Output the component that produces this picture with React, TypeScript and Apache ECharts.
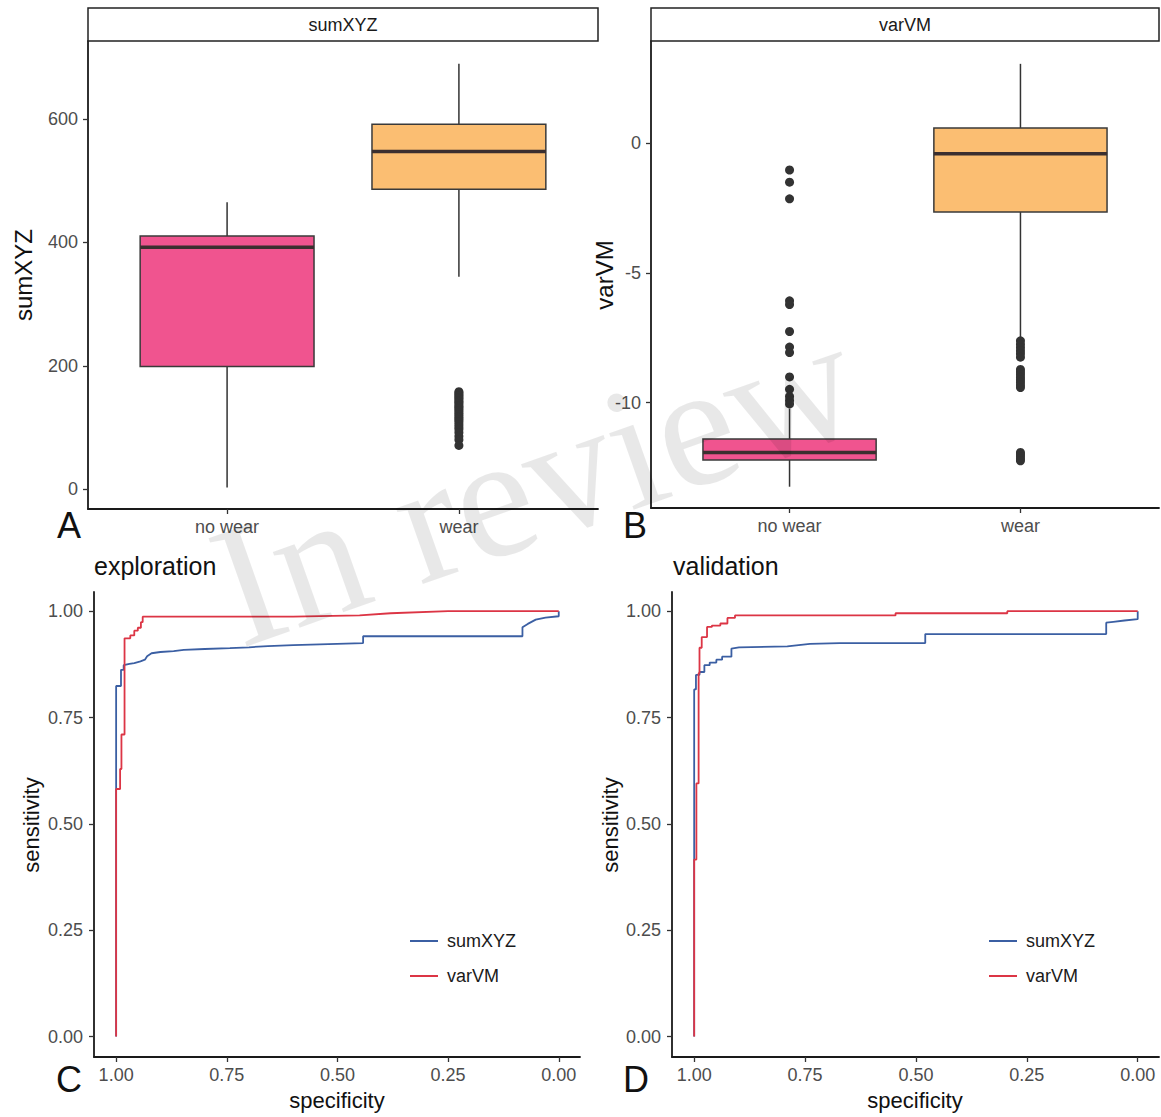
import React, { useEffect, useRef } from "react";
import * as echarts from "echarts";

const FONT = "'Liberation Sans', Arial, Helvetica, sans-serif";

// ---------- Box plot data ----------
const boxCategories = ["no wear", "wear"];
const boxColors = ["#F0548F", "#FBBE72"];
// [min whisker, Q1, median, Q3, max whisker]
const sumXYZBoxes = [
  [3, 199, 392, 410, 465],
  [344, 486, 547, 591, 689],
];
const sumXYZWearOutliers = [158, 156, 153, 151, 148, 146, 143, 141, 138, 135, 133, 130, 127, 124, 121, 118, 115, 112, 109, 105, 101, 97, 92, 86, 80, 71];
const varVMBoxes = [
  [-13.24, -12.21, -11.92, -11.4, -10.23],
  [-7.57, -2.66, -0.41, 0.58, 3.05],
];
const varVMNoWearOutliers = [-1.04, -1.51, -2.15, -6.08, -6.22, -7.26, -7.86, -8.07, -9.01, -9.49, -9.76, -9.92, -10.05];
const varVMWearOutliers = [-7.62, -7.75, -7.88, -8.0, -8.12, -8.25, -8.72, -8.82, -8.92, -9.02, -9.12, -9.22, -9.32, -9.42, -11.92, -12.0, -12.08, -12.16, -12.24];

const sumXYZTicks = [0, 200, 400, 600];
const varVMTicks = [-10, -5, 0];
const rocTicks = [0, 0.25, 0.5, 0.75, 1];

// ---------- ROC data: exploration ----------
const expSumXYZSpec = [1.0, 1.0, 0.989, 0.989, 0.983, 0.983, 0.97, 0.959, 0.945, 0.935, 0.93, 0.92, 0.9, 0.87, 0.847, 0.8, 0.743, 0.7, 0.657, 0.6, 0.54, 0.442, 0.442, 0.082, 0.082, 0.07, 0.052, 0.03, 0.0, 0.0];
const expSumXYZSens = [0.0, 0.824, 0.824, 0.862, 0.862, 0.873, 0.876, 0.878, 0.882, 0.886, 0.894, 0.901, 0.904, 0.906, 0.909, 0.911, 0.913, 0.915, 0.918, 0.92, 0.922, 0.925, 0.941, 0.941, 0.962, 0.97, 0.98, 0.985, 0.988, 1.0];
const expVarVMSpec = [1.0, 1.0, 0.991, 0.991, 0.988, 0.988, 0.981, 0.981, 0.968, 0.968, 0.959, 0.959, 0.951, 0.951, 0.944, 0.944, 0.94, 0.94, 0.6, 0.45, 0.38, 0.25, 0.0];
const expVarVMSens = [0.0, 0.582, 0.582, 0.629, 0.629, 0.71, 0.71, 0.936, 0.936, 0.943, 0.943, 0.954, 0.954, 0.961, 0.961, 0.974, 0.974, 0.987, 0.987, 0.99, 0.995, 1.0, 1.0];

// ---------- ROC data: validation ----------
const valSumXYZSpec = [1.0, 1.0, 0.996, 0.996, 0.988, 0.988, 0.977, 0.977, 0.965, 0.965, 0.95, 0.95, 0.937, 0.937, 0.916, 0.916, 0.899, 0.79, 0.739, 0.672, 0.479, 0.479, 0.071, 0.071, 0.055, 0.03, 0.0, 0.0];
const valSumXYZSens = [0.0, 0.816, 0.816, 0.85, 0.85, 0.857, 0.857, 0.873, 0.873, 0.879, 0.879, 0.886, 0.886, 0.893, 0.893, 0.912, 0.915, 0.917, 0.923, 0.925, 0.925, 0.946, 0.946, 0.973, 0.975, 0.978, 0.981, 1.0];
const valVarVMSpec = [1.0, 1.0, 0.995, 0.995, 0.99, 0.99, 0.988, 0.988, 0.983, 0.983, 0.971, 0.971, 0.96, 0.96, 0.941, 0.941, 0.925, 0.925, 0.908, 0.908, 0.546, 0.546, 0.294, 0.294, 0.0];
const valVarVMSens = [0.0, 0.416, 0.416, 0.595, 0.595, 0.854, 0.854, 0.914, 0.914, 0.939, 0.939, 0.963, 0.963, 0.966, 0.966, 0.971, 0.971, 0.984, 0.984, 0.99, 0.99, 0.995, 0.995, 1.0, 1.0];

const rocNames = ["sumXYZ", "varVM"];
const rocColors = ["#3B5FA3", "#DC3545"];

const pairs = (xs: number[], ys: number[]) => xs.map((x, i) => [x, ys[i]]);

const axisLineStyle = { show: true, onZero: false, lineStyle: { color: "#1a1a1a", width: 1.8 } };
const tickStyle = (vals: number[]) => ({ show: true, length: 5, customValues: vals, lineStyle: { color: "#333", width: 1.3 } });
const labelStyle = (vals: number[], fmt: (v: number) => string, margin: number) => ({
  show: true,
  customValues: vals,
  formatter: fmt,
  color: "#4d4d4d",
  fontSize: 18,
  fontFamily: FONT,
  margin,
});

const boxRender = (params: any, api: any) => {
  const x = api.value(0);
  const lo = api.coord([x, api.value(1)]);
  const q1 = api.coord([x, api.value(2)]);
  const med = api.coord([x, api.value(3)]);
  const q3 = api.coord([x, api.value(4)]);
  const hi = api.coord([x, api.value(5)]);
  const halfW = api.size([0.75, 0])[0] / 2;
  const fill = api.visual("color");
  return {
    type: "group",
    children: [
      { type: "line", shape: { x1: lo[0], y1: lo[1], x2: q1[0], y2: q1[1] }, style: { stroke: "#333", lineWidth: 1.5 } },
      { type: "line", shape: { x1: q3[0], y1: q3[1], x2: hi[0], y2: hi[1] }, style: { stroke: "#333", lineWidth: 1.5 } },
      {
        type: "rect",
        shape: { x: q3[0] - halfW, y: q3[1], width: 2 * halfW, height: q1[1] - q3[1] },
        style: { fill, stroke: "#3a3a3a", lineWidth: 1.5 },
      },
      {
        type: "line",
        shape: { x1: med[0] - halfW, y1: med[1], x2: med[0] + halfW, y2: med[1] },
        style: { stroke: "#3b2f2f", lineWidth: 3.5 },
      },
    ],
  };
};

const boxData = (boxes: number[][]) =>
  boxes.map((b, i) => ({ value: [i + 1, ...b], itemStyle: { color: boxColors[i] } }));

const catFmt = (v: number) => boxCategories[Math.round(v) - 1] ?? "";

export default function App() {
  const ref = useRef<HTMLDivElement>(null);
  useEffect(() => {
    document.body.style.margin = "0";
    document.body.style.background = "#fff";
    if (!ref.current) return;
    const chart = echarts.init(ref.current, undefined, { renderer: "svg" });

    const title = (text: string, x: number, y: number, size: number, rot = 0, align = "center") => ({
      type: "text",
      x,
      y,
      rotation: rot,
      z: 10,
      style: { text, fill: "#111", font: `${size}px ${FONT}`, align, verticalAlign: "middle" },
    });
    const strip = (x: number, w: number, text: string) => [
      { type: "rect", z: 10, shape: { x, y: 8, width: w, height: 33 }, style: { fill: "#fff", stroke: "#222", lineWidth: 1.5 } },
      { type: "text", z: 11, x: x + w / 2, y: 25, style: { text, fill: "#1a1a1a", font: `18px ${FONT}`, align: "center", verticalAlign: "middle" } },
    ];

    const legend = (left: number) => ({
      left,
      top: 926,
      orient: "vertical",
      icon: "rect",
      itemWidth: 28,
      itemHeight: 2,
      itemGap: 15,
      selectedMode: false,
      data: rocNames,
      textStyle: { fontSize: 18, fontFamily: FONT, color: "#1a1a1a", lineHeight: 20, padding: [0, 0, 0, 4] },
    });

    const option: any = {
      animation: false,
      backgroundColor: "#fff",
      grid: [
        { left: 88, top: 41, width: 510, height: 468 },
        { left: 651, top: 41, width: 508, height: 467 },
        { left: 94, top: 592, width: 486, height: 465 },
        { left: 672, top: 592, width: 487, height: 465 },
      ],
      xAxis: [
        { gridIndex: 0, type: "value", min: 0.4, max: 2.6, axisLine: axisLineStyle, axisTick: tickStyle([1, 2]), axisLabel: labelStyle([1, 2], catFmt, 9), splitLine: { show: false } },
        { gridIndex: 1, type: "value", min: 0.4, max: 2.6, axisLine: axisLineStyle, axisTick: tickStyle([1, 2]), axisLabel: labelStyle([1, 2], catFmt, 9), splitLine: { show: false } },
        { gridIndex: 2, type: "value", min: -0.048, max: 1.05, inverse: true, axisLine: axisLineStyle, axisTick: tickStyle(rocTicks), axisLabel: labelStyle(rocTicks, (v) => v.toFixed(2), 9), splitLine: { show: false } },
        { gridIndex: 3, type: "value", min: -0.048, max: 1.05, inverse: true, axisLine: axisLineStyle, axisTick: tickStyle(rocTicks), axisLabel: labelStyle(rocTicks, (v) => v.toFixed(2), 9), splitLine: { show: false } },
      ],
      yAxis: [
        { gridIndex: 0, type: "value", min: -32, max: 726, axisLine: axisLineStyle, axisTick: tickStyle(sumXYZTicks), axisLabel: labelStyle(sumXYZTicks, (v) => String(Math.round(v)), 10), splitLine: { show: false } },
        { gridIndex: 1, type: "value", min: -14.06, max: 3.93, axisLine: axisLineStyle, axisTick: tickStyle(varVMTicks), axisLabel: labelStyle(varVMTicks, (v) => String(Math.round(v)), 10), splitLine: { show: false } },
        { gridIndex: 2, type: "value", min: -0.048, max: 1.045, axisLine: axisLineStyle, axisTick: tickStyle(rocTicks), axisLabel: labelStyle(rocTicks, (v) => v.toFixed(2), 11), splitLine: { show: false } },
        { gridIndex: 3, type: "value", min: -0.048, max: 1.045, axisLine: axisLineStyle, axisTick: tickStyle(rocTicks), axisLabel: labelStyle(rocTicks, (v) => v.toFixed(2), 11), splitLine: { show: false } },
      ],
      legend: [legend(405), legend(984)],
      series: [
        { type: "custom", xAxisIndex: 0, yAxisIndex: 0, renderItem: boxRender, encode: { x: 0, y: [1, 2, 3, 4, 5] }, data: boxData(sumXYZBoxes), silent: true },
        { type: "scatter", xAxisIndex: 0, yAxisIndex: 0, symbolSize: 9, itemStyle: { color: "#333", opacity: 1 }, data: sumXYZWearOutliers.map((v) => [2, v]), silent: true },
        { type: "custom", xAxisIndex: 1, yAxisIndex: 1, renderItem: boxRender, encode: { x: 0, y: [1, 2, 3, 4, 5] }, data: boxData(varVMBoxes), silent: true },
        { type: "scatter", xAxisIndex: 1, yAxisIndex: 1, symbolSize: 9, itemStyle: { color: "#333", opacity: 1 }, data: varVMNoWearOutliers.map((v) => [1, v]), silent: true },
        { type: "scatter", xAxisIndex: 1, yAxisIndex: 1, symbolSize: 9, itemStyle: { color: "#333", opacity: 1 }, data: varVMWearOutliers.map((v) => [2, v]), silent: true },
        { name: rocNames[0], type: "line", xAxisIndex: 2, yAxisIndex: 2, showSymbol: false, color: rocColors[0], lineStyle: { width: 1.8, color: rocColors[0] }, data: pairs(expSumXYZSpec, expSumXYZSens) },
        { name: rocNames[1], type: "line", xAxisIndex: 2, yAxisIndex: 2, showSymbol: false, color: rocColors[1], lineStyle: { width: 1.8, color: rocColors[1] }, data: pairs(expVarVMSpec, expVarVMSens) },
        { name: rocNames[0], type: "line", xAxisIndex: 3, yAxisIndex: 3, showSymbol: false, color: rocColors[0], lineStyle: { width: 1.8, color: rocColors[0] }, data: pairs(valSumXYZSpec, valSumXYZSens) },
        { name: rocNames[1], type: "line", xAxisIndex: 3, yAxisIndex: 3, showSymbol: false, color: rocColors[1], lineStyle: { width: 1.8, color: rocColors[1] }, data: pairs(valVarVMSpec, valVarVMSens) },
      ],
      graphic: [
        ...strip(88, 510, "sumXYZ"),
        ...strip(651, 508, "varVM"),
        title("sumXYZ", 23, 275, 24, Math.PI / 2),
        title("varVM", 604, 275, 24, Math.PI / 2),
        title("sensitivity", 31, 825, 22, Math.PI / 2),
        title("sensitivity", 610, 825, 22, Math.PI / 2),
        title("specificity", 337, 1100, 22),
        title("specificity", 915, 1100, 22),
        title("exploration", 94, 566, 25, 0, "left"),
        title("validation", 673, 566, 25, 0, "left"),
        title("A", 69, 525, 36),
        title("B", 635, 525, 36),
        title("C", 69, 1079, 36),
        title("D", 636, 1079, 36),
        {
          type: "text",
          x: 535,
          y: 482,
          rotation: 0.34,
          z: 100,
          silent: true,
          style: { text: "In review", fill: "rgba(0,0,0,0.09)", font: `175px 'Liberation Serif', serif`, align: "center", verticalAlign: "middle" },
        },
      ],
    };
    chart.setOption(option);
    return () => chart.dispose();
  }, []);
  return <div ref={ref} style={{ width: 1161, height: 1117 }} />;
}
